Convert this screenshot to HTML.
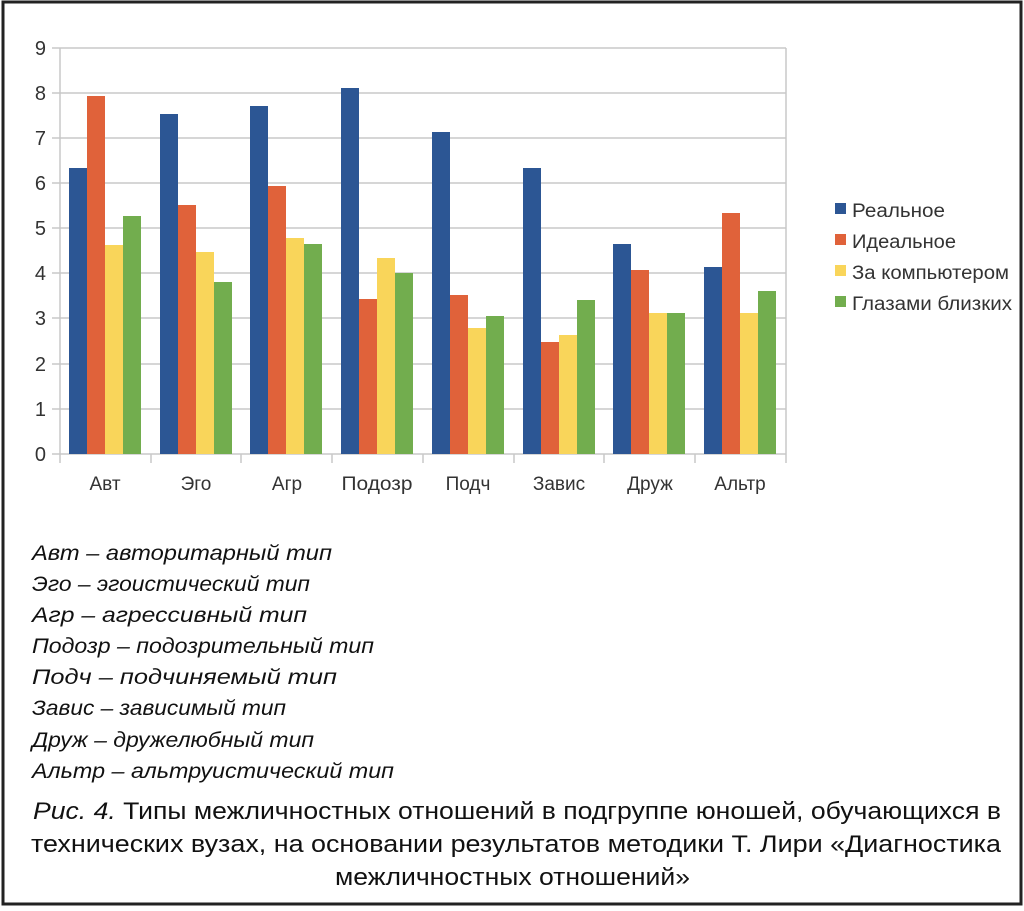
<!DOCTYPE html>
<html><head><meta charset="utf-8"><style>html,body{margin:0;padding:0;background:#fff}svg{display:block}</style></head>
<body>
<svg width="1024" height="911" xmlns="http://www.w3.org/2000/svg">
<rect x="3" y="2" width="1018" height="902" fill="#fff" stroke="#222" stroke-width="3"/>
<g stroke="#c8c8c8" stroke-width="1.5">
<line x1="52" y1="454" x2="786" y2="454"/><line x1="52" y1="409" x2="786" y2="409"/><line x1="52" y1="364" x2="786" y2="364"/><line x1="52" y1="318" x2="786" y2="318"/><line x1="52" y1="273" x2="786" y2="273"/><line x1="52" y1="228" x2="786" y2="228"/><line x1="52" y1="183" x2="786" y2="183"/><line x1="52" y1="138" x2="786" y2="138"/><line x1="52" y1="93" x2="786" y2="93"/><line x1="52" y1="48" x2="786" y2="48"/>
<line x1="60" y1="48" x2="60" y2="463"/><line x1="786" y1="48" x2="786" y2="463"/>
<line x1="151" y1="454" x2="151" y2="463"/><line x1="241" y1="454" x2="241" y2="463"/><line x1="332" y1="454" x2="332" y2="463"/><line x1="423" y1="454" x2="423" y2="463"/><line x1="514" y1="454" x2="514" y2="463"/><line x1="604" y1="454" x2="604" y2="463"/><line x1="695" y1="454" x2="695" y2="463"/>
</g>
<g font-family="Liberation Sans, sans-serif" font-size="20" fill="#333" text-anchor="end">
<text x="46" y="461">0</text><text x="46" y="416">1</text><text x="46" y="371">2</text><text x="46" y="325">3</text><text x="46" y="280">4</text><text x="46" y="235">5</text><text x="46" y="190">6</text><text x="46" y="145">7</text><text x="46" y="100">8</text><text x="46" y="55">9</text>
</g>
<g font-family="Liberation Sans, sans-serif" font-size="19" fill="#333" text-anchor="middle">
<text x="105" y="490">Авт</text><text x="196" y="490">Эго</text><text x="287" y="490">Агр</text><text x="377" y="490" textLength="71" lengthAdjust="spacingAndGlyphs">Подозр</text><text x="468" y="490">Подч</text><text x="559" y="490">Завис</text><text x="650" y="490">Друж</text><text x="740" y="490">Альтр</text>
</g>
<g font-family="Liberation Sans, sans-serif" font-size="19" fill="#333">
<rect x="835" y="203" width="11" height="11" fill="#2c5694"/><text x="852" y="217" textLength="93" lengthAdjust="spacingAndGlyphs">Реальное</text>
<rect x="835" y="234" width="11" height="11" fill="#e0623a"/><text x="852" y="248" textLength="104" lengthAdjust="spacingAndGlyphs">Идеальное</text>
<rect x="835" y="265" width="11" height="11" fill="#f9d55a"/><text x="852" y="279" textLength="157" lengthAdjust="spacingAndGlyphs">За компьютером</text>
<rect x="835" y="296" width="11" height="11" fill="#72ad4e"/><text x="852" y="310" textLength="160" lengthAdjust="spacingAndGlyphs">Глазами близких</text>
</g>
<g font-family="Liberation Sans, sans-serif" font-size="21" font-style="italic" fill="#111">
<text x="32" y="560" textLength="300" lengthAdjust="spacingAndGlyphs">Авт – авторитарный тип</text>
<text x="32" y="591" textLength="278" lengthAdjust="spacingAndGlyphs">Эго – эгоистический тип</text>
<text x="32" y="622" textLength="275" lengthAdjust="spacingAndGlyphs">Агр – агрессивный тип</text>
<text x="32" y="653" textLength="342" lengthAdjust="spacingAndGlyphs">Подозр – подозрительный тип</text>
<text x="32" y="684" textLength="305" lengthAdjust="spacingAndGlyphs">Подч – подчиняемый тип</text>
<text x="32" y="715" textLength="254" lengthAdjust="spacingAndGlyphs">Завис – зависимый тип</text>
<text x="32" y="747" textLength="282" lengthAdjust="spacingAndGlyphs">Друж – дружелюбный тип</text>
<text x="32" y="778" textLength="362" lengthAdjust="spacingAndGlyphs">Альтр – альтруистический тип</text>
</g>
<g font-family="Liberation Sans, sans-serif" font-size="24" fill="#111">
<text x="33" y="819" textLength="968" lengthAdjust="spacingAndGlyphs"><tspan font-style="italic">Рис. 4.</tspan> Типы межличностных отношений в подгруппе юношей, обучающихся в</text>
<text x="31" y="852" textLength="970" lengthAdjust="spacingAndGlyphs">технических вузах, на основании результатов методики Т. Лири «Диагностика</text>
<text x="335" y="885" textLength="355" lengthAdjust="spacingAndGlyphs">межличностных отношений»</text>
</g>
<g fill="#2c5694">
<rect x="69" y="168" width="18" height="286"/><rect x="160" y="114" width="18" height="340"/><rect x="250" y="106" width="18" height="348"/><rect x="341" y="88" width="18" height="366"/><rect x="432" y="132" width="18" height="322"/><rect x="523" y="168" width="18" height="286"/><rect x="613" y="244" width="18" height="210"/><rect x="704" y="267" width="18" height="187"/>
</g>
<g fill="#e0623a">
<rect x="87" y="96" width="18" height="358"/><rect x="178" y="205" width="18" height="249"/><rect x="268" y="186" width="18" height="268"/><rect x="359" y="299" width="18" height="155"/><rect x="450" y="295" width="18" height="159"/><rect x="541" y="342" width="18" height="112"/><rect x="631" y="270" width="18" height="184"/><rect x="722" y="213" width="18" height="241"/>
</g>
<g fill="#f9d55a">
<rect x="105" y="245" width="18" height="209"/><rect x="196" y="252" width="18" height="202"/><rect x="286" y="238" width="18" height="216"/><rect x="377" y="258" width="18" height="196"/><rect x="468" y="328" width="18" height="126"/><rect x="559" y="335" width="18" height="119"/><rect x="649" y="313" width="18" height="141"/><rect x="740" y="313" width="18" height="141"/>
</g>
<g fill="#72ad4e">
<rect x="123" y="216" width="18" height="238"/><rect x="214" y="282" width="18" height="172"/><rect x="304" y="244" width="18" height="210"/><rect x="395" y="273" width="18" height="181"/><rect x="486" y="316" width="18" height="138"/><rect x="577" y="300" width="18" height="154"/><rect x="667" y="313" width="18" height="141"/><rect x="758" y="291" width="18" height="163"/>
</g>
</svg>
</body></html>
